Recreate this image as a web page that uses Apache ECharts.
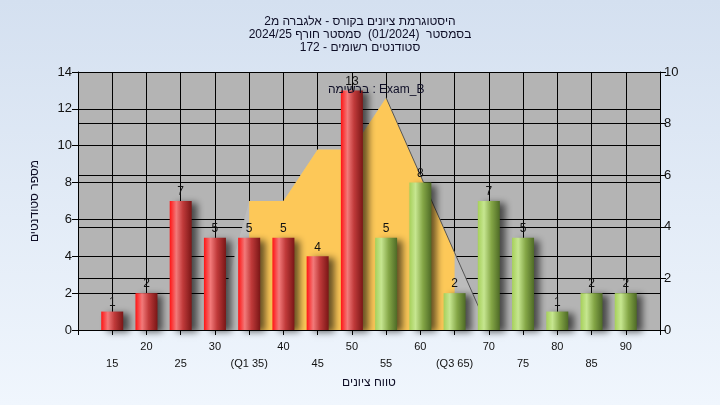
<!DOCTYPE html>
<html><head><meta charset="utf-8">
<script src="https://cdn.jsdelivr.net/npm/echarts@6/dist/echarts.min.js"></script>
<style>html,body{margin:0;padding:0;}#c{width:720px;height:405px;}</style>
</head><body><div id="c"></div>
<script>
const titleLines = [
  'היסטוגרמת ציונים בקורס - אלגברה מ2',
  'בסמסטר  (01/2024)  סמסטר חורף 2024/25',
  'סטודנטים רשומים - 172'
];
const listLabel = 'ברשימה : Exam_B';
const yAxisName = 'מספר סטודנטים';
const xAxisName = 'טווח ציונים';
const grades = [15,20,25,30,35,40,45,50,55,60,65,70,75,80,85,90];
const counts = [1,2,7,5,5,5,4,13,5,8,2,7,5,1,2,2];
const distGrades = [30,35,40,45,50,55,60,65,70];
const distValues = [0,5,5,7,7,9,6,3,0];
const q1 = 35, q3 = 65, peakGrade = 55, passGrade = 55;
const specialTickLabels = {35:'(Q1 35)', 65:'(Q3 65)'};

const font = '"Liberation Sans", Arial, sans-serif';
const redGrad = new echarts.graphic.LinearGradient(0,0,1,0,[
  {offset:0,color:'#ff1414'},{offset:0.3,color:'#f27a7a'},{offset:0.6,color:'#c03a3a'},{offset:1,color:'#7a1616'}]);
const greenGrad = new echarts.graphic.LinearGradient(0,0,1,0,[
  {offset:0,color:'#a6d05a'},{offset:0.28,color:'#c6e690'},{offset:0.62,color:'#84a646'},{offset:1,color:'#4e6a26'}]);

const chart = echarts.init(document.getElementById('c'));
chart.setOption({
  animation:false,
  backgroundColor: new echarts.graphic.LinearGradient(0,0,0,1,[{offset:0,color:'#d4e0f0'},{offset:1,color:'#f0f6fd'}]),
  title:[
    {text:titleLines.join('\n'), left:'center', top:10,
     textStyle:{fontSize:12, lineHeight:13, fontWeight:'normal', color:'#0e0e26', fontFamily:font}},
    {text:listLabel, left:323, top:79,
     textStyle:{fontSize:12, fontWeight:'normal', color:'#0e0e26', fontFamily:font}}
  ],
  grid:{left:78, right:60, top:72, bottom:75, show:true, backgroundColor:'#b4b4b4', borderWidth:0},
  xAxis:{
    type:'value', min:10, max:95, interval:5,
    name:xAxisName, nameLocation:'middle', nameGap:45,
    nameTextStyle:{fontSize:12, color:'#0e0e26', fontFamily:font},
    axisLine:{show:true, lineStyle:{color:'#000', width:1}},
    axisTick:{show:true, length:5, lineStyle:{color:'#000'}},
    splitLine:{show:true, lineStyle:{color:'#000', width:1}},
    axisLabel:{fontSize:11, lineHeight:17, color:'#111', margin:8, fontFamily:font,
      formatter:v=>{
        if(v<grades[0]||v>grades[grades.length-1]) return '';
        const t = specialTickLabels[v] || String(v);
        return v%10===0 ? t : '\n'+t;
      }}
  },
  yAxis:[
    {type:'value', min:0, max:14, interval:2, position:'left',
     name:yAxisName, nameLocation:'middle', nameGap:37,
     nameTextStyle:{fontSize:12, color:'#0e0e26', fontFamily:font},
     axisLine:{show:true, lineStyle:{color:'#000'}},
     axisTick:{show:true, length:6, lineStyle:{color:'#000'}},
     splitLine:{show:true, lineStyle:{color:'#000', width:1}},
     axisLabel:{fontSize:13, color:'#111', margin:6, fontFamily:font}},
    {type:'value', min:0, max:10, interval:2, position:'right',
     axisLine:{show:true, lineStyle:{color:'#000'}},
     axisTick:{show:true, length:6, lineStyle:{color:'#000'}},
     splitLine:{show:true, lineStyle:{color:'#000', width:1}},
     axisLabel:{fontSize:13, color:'#111', margin:4, fontFamily:font}}
  ],
  series:[
    {type:'line', yAxisIndex:1, z:1, symbol:'none', silent:true,
     data:distGrades.map((g,i)=>[g,distValues[i]]),
     lineStyle:{width:0}, areaStyle:{color:'#bcbcbc', opacity:1}},
    {type:'line', yAxisIndex:1, z:1, symbol:'none', silent:true,
     data:distGrades.map((g,i)=>[g,distValues[i]]).filter(p=>p[0]>=q1&&p[0]<=q3),
     lineStyle:{width:0}, areaStyle:{color:'#fdc858', opacity:1}},
    {type:'line', yAxisIndex:1, z:1, symbol:'none', silent:true,
     data:distGrades.map((g,i)=>[g,distValues[i]]).filter(p=>p[0]>=peakGrade),
     lineStyle:{width:1, color:'#555'}},
    {type:'bar', z:3, barWidth:22,
     data:grades.map((g,i)=>({value:[g,counts[i]], itemStyle:{color: g>=passGrade?greenGrad:redGrad}})),
     itemStyle:{shadowColor:'rgba(0,0,0,0.6)', shadowBlur:7, shadowOffsetX:6, shadowOffsetY:2},
     label:{show:true, position:'top', distance:3, fontSize:12, color:'#111', fontFamily:font,
       formatter:p=>p.value[1]}}
  ]
});
</script></body></html>
